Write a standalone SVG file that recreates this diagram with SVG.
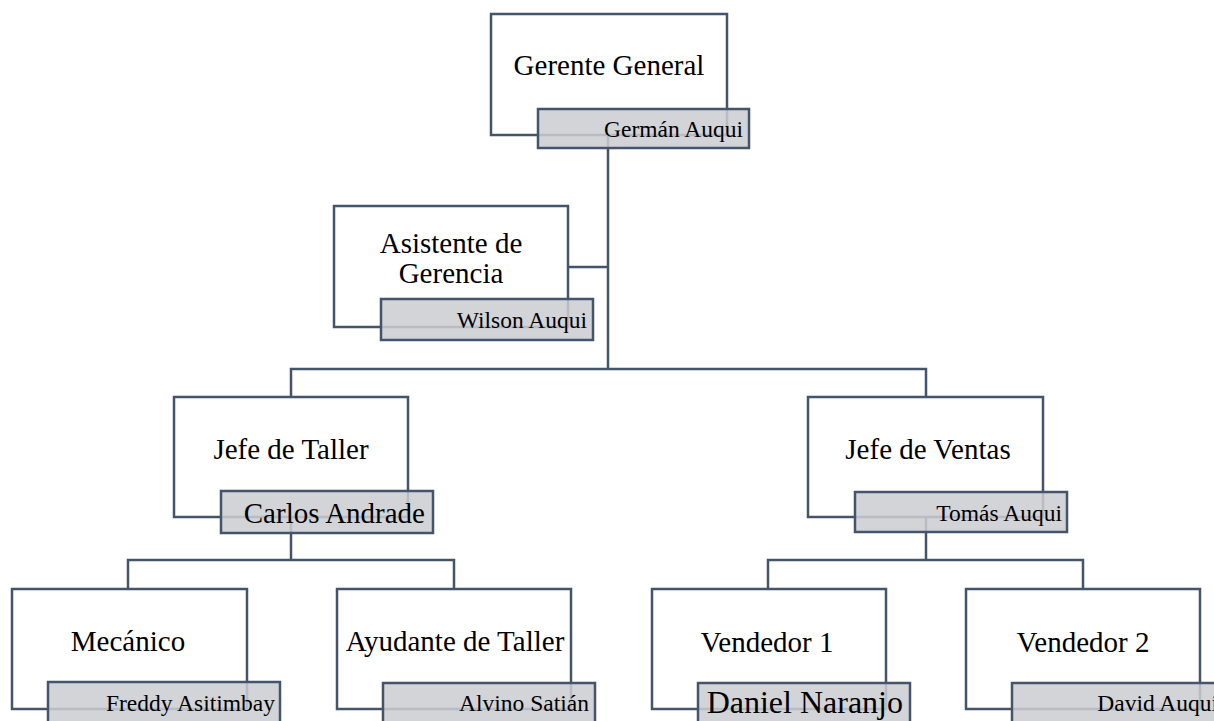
<svg xmlns="http://www.w3.org/2000/svg" width="1214" height="721" viewBox="0 0 1214 721">
  <style>
    .box { fill: #ffffff; stroke: #44546a; stroke-width: 2.5; }
    .tag { fill: #cccdd2; fill-opacity: 0.86; stroke: #44546a; stroke-width: 2.5; }
    .title { font-family: "Liberation Serif", "Times New Roman", serif; font-size: 29px; fill: #000000; text-anchor: middle; }
    .name { font-family: "Liberation Serif", "Times New Roman", serif; font-size: 23.5px; fill: #000000; text-anchor: end; }
    .link { fill: none; stroke: #44546a; stroke-width: 2.5; }
  </style>
  <rect width="1214" height="721" fill="#ffffff"/>

  <!-- connectors -->
  <g id="connectors">
    <path class="link" d="M608 120 V369"/>
    <path class="link" d="M500 267 H608"/>
    <path class="link" d="M291 397 V369 H926 V397"/>
    <path class="link" d="M291 500 V560"/>
    <path class="link" d="M128 589 V560 H454 V589"/>
    <path class="link" d="M926 500 V560"/>
    <path class="link" d="M768 589 V560 H1083 V589"/>
  </g>

  <g id="gerente-general">
    <rect class="box" x="491" y="14" width="236" height="121"/>
    <text class="title" x="609" y="75">Gerente General</text>
    <rect class="tag" x="538" y="109" width="211" height="39"/>
    <text class="name" x="743" y="137">Germán Auqui</text>
  </g>

  <g id="asistente-gerencia">
    <rect class="box" x="334" y="206" width="234" height="121"/>
    <text class="title" x="451" y="253">Asistente de</text>
    <text class="title" x="451" y="283">Gerencia</text>
    <rect class="tag" x="381" y="299" width="212" height="41"/>
    <text class="name" x="587" y="328">Wilson Auqui</text>
  </g>

  <g id="jefe-taller">
    <rect class="box" x="174" y="397" width="234" height="120"/>
    <text class="title" x="291" y="459">Jefe de Taller</text>
    <rect class="tag" x="221" y="491" width="212" height="42"/>
    <text class="name" x="425" y="523" style="font-size:29px">Carlos Andrade</text>
  </g>

  <g id="jefe-ventas">
    <rect class="box" x="808" y="397" width="235" height="120"/>
    <text class="title" x="928" y="459">Jefe de Ventas</text>
    <rect class="tag" x="855" y="492" width="212" height="40"/>
    <text class="name" x="1062" y="521">Tomás Auqui</text>
  </g>

  <g id="mecanico">
    <rect class="box" x="12" y="589" width="235" height="120"/>
    <text class="title" x="128" y="651">Mecánico</text>
    <rect class="tag" x="48" y="682" width="232" height="42"/>
    <text class="name" x="275" y="711">Freddy Asitimbay</text>
  </g>

  <g id="ayudante-taller">
    <rect class="box" x="337" y="589" width="234" height="120"/>
    <text class="title" x="455" y="651">Ayudante de Taller</text>
    <rect class="tag" x="383" y="683" width="212" height="41"/>
    <text class="name" x="589" y="711">Alvino Satián</text>
  </g>

  <g id="vendedor-1">
    <rect class="box" x="652" y="589" width="234" height="120"/>
    <text class="title" x="767" y="652">Vendedor 1</text>
    <rect class="tag" x="698" y="683" width="212" height="41"/>
    <text class="name" x="903" y="713" style="font-size:32px">Daniel Naranjo</text>
  </g>

  <g id="vendedor-2">
    <rect class="box" x="966" y="589" width="234" height="120"/>
    <text class="title" x="1083" y="652">Vendedor 2</text>
    <rect class="tag" x="1012" y="683" width="212" height="41"/>
    <text class="name" x="1218" y="711">David Auqui</text>
  </g>
</svg>
